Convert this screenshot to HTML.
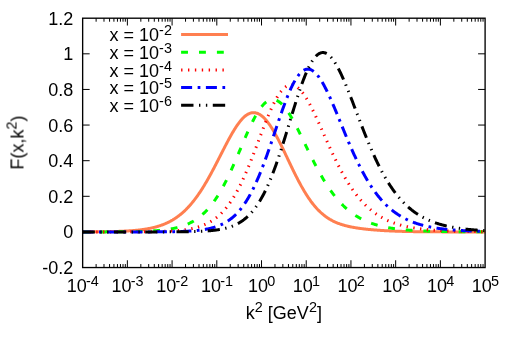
<!DOCTYPE html>
<html><head><meta charset="utf-8"><title>plot</title>
<style>html,body{margin:0;padding:0;background:#fff}svg{display:block}text{will-change:transform;font-family:"Liberation Sans",sans-serif;fill:#000}</style></head>
<body>
<svg width="515" height="343" viewBox="0 0 515 343">
<rect width="515" height="343" fill="#fff"/>
<path d="M96.11 267.55v-3.5M96.11 18.2v3.5M103.99 267.55v-3.5M103.99 18.2v3.5M109.57 267.55v-3.5M109.57 18.2v3.5M113.91 267.55v-3.5M113.91 18.2v3.5M117.45 267.55v-3.5M117.45 18.2v3.5M120.44 267.55v-3.5M120.44 18.2v3.5M123.03 267.55v-3.5M123.03 18.2v3.5M125.32 267.55v-3.5M125.32 18.2v3.5M127.37 267.55v-7.3M127.37 18.2v7.3M140.83 267.55v-3.5M140.83 18.2v3.5M148.70 267.55v-3.5M148.70 18.2v3.5M154.29 267.55v-3.5M154.29 18.2v3.5M158.62 267.55v-3.5M158.62 18.2v3.5M162.16 267.55v-3.5M162.16 18.2v3.5M165.16 267.55v-3.5M165.16 18.2v3.5M167.75 267.55v-3.5M167.75 18.2v3.5M170.04 267.55v-3.5M170.04 18.2v3.5M172.08 267.55v-7.3M172.08 18.2v7.3M185.54 267.55v-3.5M185.54 18.2v3.5M193.42 267.55v-3.5M193.42 18.2v3.5M199.01 267.55v-3.5M199.01 18.2v3.5M203.34 267.55v-3.5M203.34 18.2v3.5M206.88 267.55v-3.5M206.88 18.2v3.5M209.87 267.55v-3.5M209.87 18.2v3.5M212.47 267.55v-3.5M212.47 18.2v3.5M214.75 267.55v-3.5M214.75 18.2v3.5M216.80 267.55v-7.3M216.80 18.2v7.3M230.26 267.55v-3.5M230.26 18.2v3.5M238.14 267.55v-3.5M238.14 18.2v3.5M243.72 267.55v-3.5M243.72 18.2v3.5M248.06 267.55v-3.5M248.06 18.2v3.5M251.60 267.55v-3.5M251.60 18.2v3.5M254.59 267.55v-3.5M254.59 18.2v3.5M257.18 267.55v-3.5M257.18 18.2v3.5M259.47 267.55v-3.5M259.47 18.2v3.5M261.52 267.55v-7.3M261.52 18.2v7.3M274.98 267.55v-3.5M274.98 18.2v3.5M282.85 267.55v-3.5M282.85 18.2v3.5M288.44 267.55v-3.5M288.44 18.2v3.5M292.77 267.55v-3.5M292.77 18.2v3.5M296.31 267.55v-3.5M296.31 18.2v3.5M299.31 267.55v-3.5M299.31 18.2v3.5M301.90 267.55v-3.5M301.90 18.2v3.5M304.19 267.55v-3.5M304.19 18.2v3.5M306.23 267.55v-7.3M306.23 18.2v7.3M319.69 267.55v-3.5M319.69 18.2v3.5M327.57 267.55v-3.5M327.57 18.2v3.5M333.16 267.55v-3.5M333.16 18.2v3.5M337.49 267.55v-3.5M337.49 18.2v3.5M341.03 267.55v-3.5M341.03 18.2v3.5M344.02 267.55v-3.5M344.02 18.2v3.5M346.62 267.55v-3.5M346.62 18.2v3.5M348.90 267.55v-3.5M348.90 18.2v3.5M350.95 267.55v-7.3M350.95 18.2v7.3M364.41 267.55v-3.5M364.41 18.2v3.5M372.29 267.55v-3.5M372.29 18.2v3.5M377.87 267.55v-3.5M377.87 18.2v3.5M382.21 267.55v-3.5M382.21 18.2v3.5M385.75 267.55v-3.5M385.75 18.2v3.5M388.74 267.55v-3.5M388.74 18.2v3.5M391.33 267.55v-3.5M391.33 18.2v3.5M393.62 267.55v-3.5M393.62 18.2v3.5M395.67 267.55v-7.3M395.67 18.2v7.3M409.13 267.55v-3.5M409.13 18.2v3.5M417.00 267.55v-3.5M417.00 18.2v3.5M422.59 267.55v-3.5M422.59 18.2v3.5M426.92 267.55v-3.5M426.92 18.2v3.5M430.46 267.55v-3.5M430.46 18.2v3.5M433.46 267.55v-3.5M433.46 18.2v3.5M436.05 267.55v-3.5M436.05 18.2v3.5M438.34 267.55v-3.5M438.34 18.2v3.5M440.38 267.55v-7.3M440.38 18.2v7.3M453.84 267.55v-3.5M453.84 18.2v3.5M461.72 267.55v-3.5M461.72 18.2v3.5M467.31 267.55v-3.5M467.31 18.2v3.5M471.64 267.55v-3.5M471.64 18.2v3.5M475.18 267.55v-3.5M475.18 18.2v3.5M478.17 267.55v-3.5M478.17 18.2v3.5M480.77 267.55v-3.5M480.77 18.2v3.5M483.05 267.55v-3.5M483.05 18.2v3.5M82.65 231.93h7M485.1 231.93h-7M82.65 196.31h7M485.1 196.31h-7M82.65 160.69h7M485.1 160.69h-7M82.65 125.06h7M485.1 125.06h-7M82.65 89.44h7M485.1 89.44h-7M82.65 53.82h7M485.1 53.82h-7" stroke="#000" stroke-width="1.0" fill="none"/>
<g font-size="18.0">
<text x="73.2" y="274.05" text-anchor="end">-0.2</text>
<text x="73.2" y="238.43" text-anchor="end">0</text>
<text x="73.2" y="202.81" text-anchor="end">0.2</text>
<text x="73.2" y="167.19" text-anchor="end">0.4</text>
<text x="73.2" y="131.56" text-anchor="end">0.6</text>
<text x="73.2" y="95.94" text-anchor="end">0.8</text>
<text x="73.2" y="60.32" text-anchor="end">1</text>
<text x="73.2" y="24.70" text-anchor="end">1.2</text>
<text x="82.85" y="291.9" text-anchor="middle">10<tspan font-size="14.4" dx="-0.8" dy="-5.7">-4</tspan></text>
<text x="127.57" y="291.9" text-anchor="middle">10<tspan font-size="14.4" dx="-0.8" dy="-5.7">-3</tspan></text>
<text x="172.28" y="291.9" text-anchor="middle">10<tspan font-size="14.4" dx="-0.8" dy="-5.7">-2</tspan></text>
<text x="217.00" y="291.9" text-anchor="middle">10<tspan font-size="14.4" dx="-0.8" dy="-5.7">-1</tspan></text>
<text x="261.72" y="291.9" text-anchor="middle">10<tspan font-size="14.4" dx="-0.8" dy="-5.7">0</tspan></text>
<text x="306.43" y="291.9" text-anchor="middle">10<tspan font-size="14.4" dx="-0.8" dy="-5.7">1</tspan></text>
<text x="351.15" y="291.9" text-anchor="middle">10<tspan font-size="14.4" dx="-0.8" dy="-5.7">2</tspan></text>
<text x="395.87" y="291.9" text-anchor="middle">10<tspan font-size="14.4" dx="-0.8" dy="-5.7">3</tspan></text>
<text x="440.58" y="291.9" text-anchor="middle">10<tspan font-size="14.4" dx="-0.8" dy="-5.7">4</tspan></text>
<text x="485.30" y="291.9" text-anchor="middle">10<tspan font-size="14.4" dx="-0.8" dy="-5.7">5</tspan></text>
<text x="283.88" y="318.9" text-anchor="middle">k<tspan font-size="14.4" dy="-6.5">2</tspan><tspan dy="6.5"> [GeV</tspan><tspan font-size="14.4" dy="-6.5">2</tspan><tspan dy="6.5">]</tspan></text>
<text transform="translate(23.5 142.57) rotate(-90)" text-anchor="middle">F(x,k<tspan font-size="14.4" dy="-6.9">2</tspan><tspan dy="6.9">)</tspan></text>
<text x="171.9" y="41.10" text-anchor="end">x = 10<tspan font-size="14.4" dy="-6.0">-2</tspan></text>
<text x="171.9" y="58.80" text-anchor="end">x = 10<tspan font-size="14.4" dy="-6.0">-3</tspan></text>
<text x="171.9" y="76.50" text-anchor="end">x = 10<tspan font-size="14.4" dy="-6.0">-4</tspan></text>
<text x="171.9" y="94.20" text-anchor="end">x = 10<tspan font-size="14.4" dy="-6.0">-5</tspan></text>
<text x="171.9" y="111.90" text-anchor="end">x = 10<tspan font-size="14.4" dy="-6.0">-6</tspan></text>
</g>
<g fill="none" stroke-width="3" stroke-linejoin="round">
<path d="M181.1 34.5H228" stroke="#ff7f50"/>
<path d="M181.1 52.2H228" stroke="#00ff00" stroke-dasharray="6.88 11.02"/>
<path d="M181.1 69.9H228" stroke="#ff0000" stroke-dasharray="1.38 5.51"/>
<path d="M181.1 87.6H228" stroke="#0000ff" stroke-dasharray="11.02 5.51 2.75 5.51"/>
<path d="M181.1 105.3H228" stroke="#000000" stroke-dasharray="12.39 5.51 1.38 5.51 1.38 5.51"/>
<polyline points="82.65,231.87 83.21,231.87 83.77,231.87 84.33,231.87 84.89,231.87 85.44,231.86 86.00,231.86 86.56,231.86 87.12,231.86 87.68,231.85 88.24,231.85 88.80,231.85 89.36,231.84 89.92,231.84 90.48,231.84 91.03,231.83 91.59,231.83 92.15,231.83 92.71,231.82 93.27,231.82 93.83,231.81 94.39,231.81 94.95,231.81 95.51,231.80 96.06,231.80 96.62,231.79 97.18,231.79 97.74,231.78 98.30,231.78 98.86,231.77 99.42,231.76 99.98,231.76 100.54,231.75 101.10,231.75 101.65,231.74 102.21,231.73 102.77,231.73 103.33,231.72 103.89,231.71 104.45,231.70 105.01,231.69 105.57,231.69 106.13,231.68 106.69,231.67 107.24,231.66 107.80,231.65 108.36,231.64 108.92,231.63 109.48,231.62 110.04,231.60 110.60,231.59 111.16,231.58 111.72,231.57 112.27,231.56 112.83,231.54 113.39,231.53 113.95,231.51 114.51,231.50 115.07,231.48 115.63,231.47 116.19,231.45 116.75,231.43 117.31,231.42 117.86,231.40 118.42,231.38 118.98,231.36 119.54,231.34 120.10,231.32 120.66,231.30 121.22,231.27 121.78,231.25 122.34,231.23 122.90,231.20 123.45,231.18 124.01,231.15 124.57,231.12 125.13,231.10 125.69,231.07 126.25,231.04 126.81,231.01 127.37,230.97 127.93,230.94 128.48,230.91 129.04,230.87 129.60,230.83 130.16,230.80 130.72,230.76 131.28,230.72 131.84,230.68 132.40,230.63 132.96,230.59 133.52,230.54 134.07,230.50 134.63,230.45 135.19,230.40 135.75,230.35 136.31,230.29 136.87,230.24 137.43,230.18 137.99,230.12 138.55,230.06 139.10,230.00 139.66,229.94 140.22,229.87 140.78,229.80 141.34,229.73 141.90,229.66 142.46,229.58 143.02,229.51 143.58,229.43 144.14,229.34 144.69,229.26 145.25,229.17 145.81,229.08 146.37,228.99 146.93,228.89 147.49,228.80 148.05,228.70 148.61,228.59 149.17,228.48 149.73,228.37 150.28,228.26 150.84,228.14 151.40,228.02 151.96,227.90 152.52,227.77 153.08,227.64 153.64,227.51 154.20,227.37 154.76,227.23 155.31,227.08 155.87,226.93 156.43,226.78 156.99,226.62 157.55,226.45 158.11,226.28 158.67,226.11 159.23,225.93 159.79,225.75 160.35,225.56 160.90,225.37 161.46,225.17 162.02,224.97 162.58,224.76 163.14,224.55 163.70,224.33 164.26,224.10 164.82,223.87 165.38,223.64 165.93,223.39 166.49,223.14 167.05,222.89 167.61,222.62 168.17,222.35 168.73,222.08 169.29,221.80 169.85,221.51 170.41,221.21 170.97,220.90 171.52,220.59 172.08,220.27 172.64,219.95 173.20,219.61 173.76,219.27 174.32,218.92 174.88,218.56 175.44,218.19 176.00,217.81 176.56,217.43 177.11,217.04 177.67,216.63 178.23,216.22 178.79,215.80 179.35,215.37 179.91,214.93 180.47,214.48 181.03,214.03 181.59,213.56 182.14,213.08 182.70,212.59 183.26,212.10 183.82,211.59 184.38,211.07 184.94,210.54 185.50,210.00 186.06,209.45 186.62,208.89 187.18,208.32 187.73,207.74 188.29,207.14 188.85,206.54 189.41,205.92 189.97,205.30 190.53,204.66 191.09,204.01 191.65,203.35 192.21,202.67 192.76,201.99 193.32,201.29 193.88,200.59 194.44,199.87 195.00,199.14 195.56,198.40 196.12,197.64 196.68,196.88 197.24,196.10 197.80,195.32 198.35,194.52 198.91,193.71 199.47,192.88 200.03,192.05 200.59,191.21 201.15,190.35 201.71,189.48 202.27,188.61 202.83,187.72 203.39,186.82 203.94,185.91 204.50,184.99 205.06,184.06 205.62,183.11 206.18,182.16 206.74,181.20 207.30,180.23 207.86,179.25 208.42,178.27 208.97,177.27 209.53,176.26 210.09,175.25 210.65,174.23 211.21,173.20 211.77,172.16 212.33,171.12 212.89,170.07 213.45,169.01 214.01,167.95 214.56,166.88 215.12,165.81 215.68,164.73 216.24,163.65 216.80,162.56 217.36,161.48 217.92,160.38 218.48,159.29 219.04,158.19 219.59,157.10 220.15,156.00 220.71,154.90 221.27,153.80 221.83,152.70 222.39,151.61 222.95,150.51 223.51,149.42 224.07,148.33 224.63,147.25 225.18,146.17 225.74,145.09 226.30,144.02 226.86,142.96 227.42,141.90 227.98,140.85 228.54,139.81 229.10,138.78 229.66,137.76 230.22,136.75 230.77,135.75 231.33,134.77 231.89,133.79 232.45,132.83 233.01,131.88 233.57,130.95 234.13,130.03 234.69,129.13 235.25,128.25 235.80,127.38 236.36,126.53 236.92,125.70 237.48,124.89 238.04,124.10 238.60,123.33 239.16,122.59 239.72,121.86 240.28,121.16 240.84,120.48 241.39,119.83 241.95,119.20 242.51,118.60 243.07,118.02 243.63,117.47 244.19,116.95 244.75,116.45 245.31,115.99 245.87,115.55 246.42,115.14 246.98,114.76 247.54,114.41 248.10,114.09 248.66,113.81 249.22,113.55 249.78,113.33 250.34,113.13 250.90,112.97 251.46,112.85 252.01,112.75 252.57,112.69 253.13,112.66 253.69,112.66 254.25,112.68 254.81,112.74 255.37,112.83 255.93,112.95 256.49,113.09 257.05,113.27 257.60,113.48 258.16,113.71 258.72,113.98 259.28,114.28 259.84,114.60 260.40,114.96 260.96,115.34 261.52,115.76 262.08,116.20 262.63,116.67 263.19,117.17 263.75,117.69 264.31,118.24 264.87,118.82 265.43,119.43 265.99,120.07 266.55,120.72 267.11,121.41 267.67,122.12 268.22,122.85 268.78,123.61 269.34,124.39 269.90,125.20 270.46,126.02 271.02,126.87 271.58,127.74 272.14,128.63 272.70,129.54 273.25,130.47 273.81,131.42 274.37,132.38 274.93,133.37 275.49,134.37 276.05,135.38 276.61,136.41 277.17,137.46 277.73,138.51 278.29,139.59 278.84,140.67 279.40,141.76 279.96,142.87 280.52,143.99 281.08,145.11 281.64,146.24 282.20,147.38 282.76,148.53 283.32,149.69 283.88,150.85 284.43,152.01 284.99,153.18 285.55,154.35 286.11,155.53 286.67,156.70 287.23,157.88 287.79,159.06 288.35,160.24 288.91,161.41 289.46,162.59 290.02,163.76 290.58,164.93 291.14,166.10 291.70,167.26 292.26,168.42 292.82,169.57 293.38,170.72 293.94,171.85 294.50,172.99 295.05,174.11 295.61,175.23 296.17,176.34 296.73,177.44 297.29,178.53 297.85,179.61 298.41,180.68 298.97,181.74 299.53,182.79 300.08,183.82 300.64,184.85 301.20,185.86 301.76,186.86 302.32,187.85 302.88,188.83 303.44,189.79 304.00,190.74 304.56,191.67 305.12,192.59 305.67,193.50 306.23,194.39 306.79,195.27 307.35,196.13 307.91,196.98 308.47,197.82 309.03,198.64 309.59,199.44 310.15,200.23 310.71,201.01 311.26,201.77 311.82,202.52 312.38,203.25 312.94,203.97 313.50,204.67 314.06,205.35 314.62,206.03 315.18,206.69 315.74,207.33 316.29,207.96 316.85,208.57 317.41,209.18 317.97,209.76 318.53,210.34 319.09,210.90 319.65,211.44 320.21,211.98 320.77,212.50 321.33,213.00 321.88,213.50 322.44,213.98 323.00,214.45 323.56,214.91 324.12,215.36 324.68,215.79 325.24,216.21 325.80,216.62 326.36,217.02 326.91,217.41 327.47,217.79 328.03,218.16 328.59,218.52 329.15,218.87 329.71,219.21 330.27,219.53 330.83,219.85 331.39,220.16 331.95,220.47 332.50,220.76 333.06,221.05 333.62,221.32 334.18,221.59 334.74,221.85 335.30,222.11 335.86,222.35 336.42,222.59 336.98,222.82 337.54,223.05 338.09,223.27 338.65,223.48 339.21,223.69 339.77,223.89 340.33,224.08 340.89,224.27 341.45,224.46 342.01,224.64 342.57,224.81 343.12,224.98 343.68,225.14 344.24,225.30 344.80,225.46 345.36,225.61 345.92,225.75 346.48,225.90 347.04,226.03 347.60,226.17 348.16,226.30 348.71,226.43 349.27,226.55 349.83,226.67 350.39,226.79 350.95,226.91 351.51,227.02 352.07,227.13 352.63,227.23 353.19,227.34 353.74,227.44 354.30,227.54 354.86,227.63 355.42,227.73 355.98,227.82 356.54,227.91 357.10,228.00 357.66,228.08 358.22,228.17 358.78,228.25 359.33,228.33 359.89,228.40 360.45,228.48 361.01,228.56 361.57,228.63 362.13,228.70 362.69,228.77 363.25,228.84 363.81,228.90 364.37,228.97 364.92,229.03 365.48,229.10 366.04,229.16 366.60,229.22 367.16,229.28 367.72,229.34 368.28,229.39 368.84,229.45 369.40,229.50 369.95,229.56 370.51,229.61 371.07,229.66 371.63,229.71 372.19,229.76 372.75,229.81 373.31,229.86 373.87,229.90 374.43,229.95 374.99,229.99 375.54,230.04 376.10,230.08 376.66,230.12 377.22,230.16 377.78,230.20 378.34,230.24 378.90,230.28 379.46,230.32 380.02,230.36 380.57,230.40 381.13,230.43 381.69,230.47 382.25,230.50 382.81,230.54 383.37,230.57 383.93,230.60 384.49,230.64 385.05,230.67 385.61,230.70 386.16,230.73 386.72,230.76 387.28,230.79 387.84,230.82 388.40,230.84 388.96,230.87 389.52,230.90 390.08,230.92 390.64,230.95 391.20,230.98 391.75,231.00 392.31,231.02 392.87,231.05 393.43,231.07 393.99,231.09 394.55,231.12 395.11,231.14 395.67,231.16 396.23,231.18 396.78,231.20 397.34,231.22 397.90,231.24 398.46,231.26 399.02,231.28 399.58,231.29 400.14,231.31 400.70,231.33 401.26,231.35 401.82,231.36 402.37,231.38 402.93,231.39 403.49,231.41 404.05,231.42 404.61,231.44 405.17,231.45 405.73,231.47 406.29,231.48 406.85,231.49 407.40,231.51 407.96,231.52 408.52,231.53 409.08,231.54 409.64,231.55 410.20,231.56 410.76,231.58 411.32,231.59 411.88,231.60 412.44,231.61 412.99,231.62 413.55,231.63 414.11,231.64 414.67,231.64 415.23,231.65 415.79,231.66 416.35,231.67 416.91,231.68 417.47,231.69 418.02,231.69 418.58,231.70 419.14,231.71 419.70,231.72 420.26,231.72 420.82,231.73 421.38,231.74 421.94,231.74 422.50,231.75 423.06,231.75 423.61,231.76 424.17,231.77 424.73,231.77 425.29,231.78 425.85,231.78 426.41,231.79 426.97,231.79 427.53,231.80 428.09,231.80 428.65,231.81 429.20,231.81 429.76,231.81 430.32,231.82 430.88,231.82 431.44,231.82 432.00,231.83 432.56,231.83 433.12,231.84 433.68,231.84 434.23,231.84 434.79,231.85 435.35,231.85 435.91,231.85 436.47,231.85 437.03,231.86 437.59,231.86 438.15,231.86 438.71,231.86 439.27,231.87 439.82,231.87 440.38,231.87 440.94,231.87 441.50,231.87 442.06,231.88 442.62,231.88 443.18,231.88 443.74,231.88 444.30,231.88 444.86,231.89 445.41,231.89 445.97,231.89 446.53,231.89 447.09,231.89 447.65,231.89 448.21,231.89 448.77,231.90 449.33,231.90 449.89,231.90 450.44,231.90 451.00,231.90 451.56,231.90 452.12,231.90 452.68,231.90 453.24,231.90 453.80,231.91 454.36,231.91 454.92,231.91 455.48,231.91 456.03,231.91 456.59,231.91 457.15,231.91 457.71,231.91 458.27,231.91 458.83,231.91 459.39,231.91 459.95,231.91 460.51,231.91 461.06,231.92 461.62,231.92 462.18,231.92 462.74,231.92 463.30,231.92 463.86,231.92 464.42,231.92 464.98,231.92 465.54,231.92 466.10,231.92 466.65,231.92 467.21,231.92 467.77,231.92 468.33,231.92 468.89,231.92 469.45,231.92 470.01,231.92 470.57,231.92 471.13,231.92 471.69,231.92 472.24,231.92 472.80,231.92 473.36,231.92 473.92,231.92 474.48,231.92 475.04,231.92 475.60,231.92 476.16,231.92 476.72,231.92 477.27,231.92 477.83,231.92 478.39,231.93 478.95,231.93 479.51,231.93 480.07,231.93 480.63,231.93 481.19,231.93 481.75,231.93 482.31,231.93 482.86,231.93 483.42,231.93 483.98,231.93 484.54,231.93 485.10,231.93" stroke="#ff7f50"/>
<polyline points="82.65,231.92 83.21,231.92 83.77,231.92 84.33,231.92 84.89,231.91 85.44,231.91 86.00,231.91 86.56,231.91 87.12,231.91 87.68,231.91 88.24,231.91 88.80,231.91 89.36,231.91 89.92,231.91 90.48,231.91 91.03,231.91 91.59,231.91 92.15,231.91 92.71,231.91 93.27,231.90 93.83,231.90 94.39,231.90 94.95,231.90 95.51,231.90 96.06,231.90 96.62,231.90 97.18,231.90 97.74,231.90 98.30,231.90 98.86,231.89 99.42,231.89 99.98,231.89 100.54,231.89 101.10,231.89 101.65,231.89 102.21,231.89 102.77,231.89 103.33,231.88 103.89,231.88 104.45,231.88 105.01,231.88 105.57,231.88 106.13,231.87 106.69,231.87 107.24,231.87 107.80,231.87 108.36,231.87 108.92,231.86 109.48,231.86 110.04,231.86 110.60,231.86 111.16,231.85 111.72,231.85 112.27,231.85 112.83,231.85 113.39,231.84 113.95,231.84 114.51,231.84 115.07,231.83 115.63,231.83 116.19,231.83 116.75,231.82 117.31,231.82 117.86,231.82 118.42,231.81 118.98,231.81 119.54,231.80 120.10,231.80 120.66,231.79 121.22,231.79 121.78,231.78 122.34,231.78 122.90,231.77 123.45,231.77 124.01,231.76 124.57,231.76 125.13,231.75 125.69,231.74 126.25,231.74 126.81,231.73 127.37,231.72 127.93,231.72 128.48,231.71 129.04,231.70 129.60,231.69 130.16,231.68 130.72,231.67 131.28,231.67 131.84,231.66 132.40,231.65 132.96,231.64 133.52,231.63 134.07,231.61 134.63,231.60 135.19,231.59 135.75,231.58 136.31,231.57 136.87,231.55 137.43,231.54 137.99,231.53 138.55,231.51 139.10,231.50 139.66,231.48 140.22,231.47 140.78,231.45 141.34,231.43 141.90,231.42 142.46,231.40 143.02,231.38 143.58,231.36 144.14,231.34 144.69,231.32 145.25,231.30 145.81,231.28 146.37,231.25 146.93,231.23 147.49,231.21 148.05,231.18 148.61,231.15 149.17,231.13 149.73,231.10 150.28,231.07 150.84,231.04 151.40,231.01 151.96,230.98 152.52,230.94 153.08,230.91 153.64,230.87 154.20,230.84 154.76,230.80 155.31,230.76 155.87,230.72 156.43,230.68 156.99,230.63 157.55,230.59 158.11,230.54 158.67,230.49 159.23,230.44 159.79,230.39 160.35,230.34 160.90,230.28 161.46,230.23 162.02,230.17 162.58,230.11 163.14,230.05 163.70,229.98 164.26,229.91 164.82,229.85 165.38,229.78 165.93,229.70 166.49,229.63 167.05,229.55 167.61,229.47 168.17,229.38 168.73,229.30 169.29,229.21 169.85,229.12 170.41,229.02 170.97,228.92 171.52,228.82 172.08,228.72 172.64,228.61 173.20,228.50 173.76,228.39 174.32,228.27 174.88,228.14 175.44,228.02 176.00,227.89 176.56,227.76 177.11,227.62 177.67,227.48 178.23,227.33 178.79,227.18 179.35,227.02 179.91,226.86 180.47,226.70 181.03,226.52 181.59,226.35 182.14,226.17 182.70,225.98 183.26,225.79 183.82,225.59 184.38,225.39 184.94,225.18 185.50,224.96 186.06,224.74 186.62,224.51 187.18,224.27 187.73,224.03 188.29,223.78 188.85,223.52 189.41,223.26 189.97,222.99 190.53,222.71 191.09,222.42 191.65,222.12 192.21,221.82 192.76,221.51 193.32,221.19 193.88,220.86 194.44,220.52 195.00,220.17 195.56,219.81 196.12,219.44 196.68,219.07 197.24,218.68 197.80,218.28 198.35,217.87 198.91,217.45 199.47,217.03 200.03,216.58 200.59,216.13 201.15,215.67 201.71,215.20 202.27,214.71 202.83,214.21 203.39,213.70 203.94,213.18 204.50,212.64 205.06,212.09 205.62,211.53 206.18,210.96 206.74,210.37 207.30,209.77 207.86,209.15 208.42,208.52 208.97,207.88 209.53,207.22 210.09,206.55 210.65,205.86 211.21,205.16 211.77,204.45 212.33,203.72 212.89,202.97 213.45,202.21 214.01,201.43 214.56,200.64 215.12,199.84 215.68,199.02 216.24,198.18 216.80,197.33 217.36,196.46 217.92,195.57 218.48,194.67 219.04,193.76 219.59,192.83 220.15,191.88 220.71,190.92 221.27,189.94 221.83,188.95 222.39,187.94 222.95,186.92 223.51,185.88 224.07,184.83 224.63,183.76 225.18,182.68 225.74,181.59 226.30,180.48 226.86,179.36 227.42,178.22 227.98,177.07 228.54,175.91 229.10,174.73 229.66,173.54 230.22,172.34 230.77,171.13 231.33,169.91 231.89,168.68 232.45,167.44 233.01,166.18 233.57,164.92 234.13,163.65 234.69,162.38 235.25,161.09 235.80,159.80 236.36,158.50 236.92,157.20 237.48,155.89 238.04,154.58 238.60,153.26 239.16,151.95 239.72,150.63 240.28,149.31 240.84,147.98 241.39,146.66 241.95,145.34 242.51,144.02 243.07,142.71 243.63,141.40 244.19,140.09 244.75,138.79 245.31,137.49 245.87,136.20 246.42,134.93 246.98,133.65 247.54,132.39 248.10,131.14 248.66,129.91 249.22,128.68 249.78,127.47 250.34,126.27 250.90,125.09 251.46,123.93 252.01,122.78 252.57,121.65 253.13,120.54 253.69,119.45 254.25,118.39 254.81,117.34 255.37,116.32 255.93,115.32 256.49,114.34 257.05,113.39 257.60,112.47 258.16,111.57 258.72,110.70 259.28,109.86 259.84,109.05 260.40,108.27 260.96,107.51 261.52,106.79 262.08,106.10 262.63,105.45 263.19,104.82 263.75,104.23 264.31,103.67 264.87,103.15 265.43,102.66 265.99,102.20 266.55,101.78 267.11,101.40 267.67,101.05 268.22,100.74 268.78,100.46 269.34,100.22 269.90,100.02 270.46,99.85 271.02,99.72 271.58,99.63 272.14,99.57 272.70,99.55 273.25,99.56 273.81,99.61 274.37,99.70 274.93,99.82 275.49,99.98 276.05,100.17 276.61,100.40 277.17,100.66 277.73,100.96 278.29,101.29 278.84,101.66 279.40,102.05 279.96,102.48 280.52,102.94 281.08,103.43 281.64,103.96 282.20,104.51 282.76,105.09 283.32,105.71 283.88,106.34 284.43,107.01 284.99,107.71 285.55,108.43 286.11,109.17 286.67,109.94 287.23,110.74 287.79,111.56 288.35,112.40 288.91,113.26 289.46,114.14 290.02,115.05 290.58,115.97 291.14,116.91 291.70,117.87 292.26,118.84 292.82,119.84 293.38,120.84 293.94,121.87 294.50,122.90 295.05,123.95 295.61,125.01 296.17,126.09 296.73,127.17 297.29,128.26 297.85,129.37 298.41,130.48 298.97,131.60 299.53,132.72 300.08,133.85 300.64,134.99 301.20,136.13 301.76,137.28 302.32,138.43 302.88,139.58 303.44,140.74 304.00,141.90 304.56,143.05 305.12,144.21 305.67,145.37 306.23,146.53 306.79,147.68 307.35,148.84 307.91,149.99 308.47,151.14 309.03,152.28 309.59,153.43 310.15,154.56 310.71,155.70 311.26,156.82 311.82,157.94 312.38,159.06 312.94,160.17 313.50,161.27 314.06,162.37 314.62,163.46 315.18,164.54 315.74,165.61 316.29,166.68 316.85,167.73 317.41,168.78 317.97,169.82 318.53,170.85 319.09,171.86 319.65,172.87 320.21,173.87 320.77,174.86 321.33,175.84 321.88,176.81 322.44,177.77 323.00,178.72 323.56,179.66 324.12,180.58 324.68,181.50 325.24,182.40 325.80,183.30 326.36,184.18 326.91,185.05 327.47,185.91 328.03,186.76 328.59,187.60 329.15,188.42 329.71,189.24 330.27,190.04 330.83,190.83 331.39,191.61 331.95,192.38 332.50,193.14 333.06,193.89 333.62,194.62 334.18,195.35 334.74,196.06 335.30,196.76 335.86,197.46 336.42,198.14 336.98,198.81 337.54,199.46 338.09,200.11 338.65,200.75 339.21,201.38 339.77,201.99 340.33,202.60 340.89,203.20 341.45,203.78 342.01,204.36 342.57,204.92 343.12,205.48 343.68,206.02 344.24,206.56 344.80,207.09 345.36,207.60 345.92,208.11 346.48,208.61 347.04,209.10 347.60,209.58 348.16,210.05 348.71,210.51 349.27,210.97 349.83,211.41 350.39,211.85 350.95,212.28 351.51,212.70 352.07,213.11 352.63,213.52 353.19,213.91 353.74,214.30 354.30,214.68 354.86,215.06 355.42,215.43 355.98,215.78 356.54,216.14 357.10,216.48 357.66,216.82 358.22,217.15 358.78,217.48 359.33,217.79 359.89,218.11 360.45,218.41 361.01,218.71 361.57,219.00 362.13,219.29 362.69,219.57 363.25,219.85 363.81,220.12 364.37,220.38 364.92,220.64 365.48,220.89 366.04,221.14 366.60,221.38 367.16,221.62 367.72,221.85 368.28,222.08 368.84,222.30 369.40,222.52 369.95,222.73 370.51,222.94 371.07,223.14 371.63,223.34 372.19,223.54 372.75,223.73 373.31,223.92 373.87,224.10 374.43,224.28 374.99,224.45 375.54,224.62 376.10,224.79 376.66,224.95 377.22,225.11 377.78,225.27 378.34,225.42 378.90,225.57 379.46,225.72 380.02,225.86 380.57,226.00 381.13,226.14 381.69,226.27 382.25,226.40 382.81,226.53 383.37,226.66 383.93,226.78 384.49,226.90 385.05,227.02 385.61,227.13 386.16,227.24 386.72,227.35 387.28,227.46 387.84,227.56 388.40,227.66 388.96,227.76 389.52,227.86 390.08,227.95 390.64,228.05 391.20,228.14 391.75,228.23 392.31,228.31 392.87,228.40 393.43,228.48 393.99,228.56 394.55,228.64 395.11,228.72 395.67,228.79 396.23,228.87 396.78,228.94 397.34,229.01 397.90,229.08 398.46,229.14 399.02,229.21 399.58,229.27 400.14,229.34 400.70,229.40 401.26,229.46 401.82,229.52 402.37,229.57 402.93,229.63 403.49,229.68 404.05,229.74 404.61,229.79 405.17,229.84 405.73,229.89 406.29,229.94 406.85,229.98 407.40,230.03 407.96,230.07 408.52,230.12 409.08,230.16 409.64,230.20 410.20,230.24 410.76,230.28 411.32,230.32 411.88,230.36 412.44,230.40 412.99,230.43 413.55,230.47 414.11,230.51 414.67,230.54 415.23,230.57 415.79,230.60 416.35,230.64 416.91,230.67 417.47,230.70 418.02,230.73 418.58,230.75 419.14,230.78 419.70,230.81 420.26,230.84 420.82,230.86 421.38,230.89 421.94,230.91 422.50,230.94 423.06,230.96 423.61,230.98 424.17,231.01 424.73,231.03 425.29,231.05 425.85,231.07 426.41,231.09 426.97,231.11 427.53,231.13 428.09,231.15 428.65,231.17 429.20,231.19 429.76,231.20 430.32,231.22 430.88,231.24 431.44,231.26 432.00,231.27 432.56,231.29 433.12,231.30 433.68,231.32 434.23,231.33 434.79,231.35 435.35,231.36 435.91,231.37 436.47,231.39 437.03,231.40 437.59,231.41 438.15,231.43 438.71,231.44 439.27,231.45 439.82,231.46 440.38,231.47 440.94,231.48 441.50,231.49 442.06,231.50 442.62,231.51 443.18,231.52 443.74,231.53 444.30,231.54 444.86,231.55 445.41,231.56 445.97,231.57 446.53,231.58 447.09,231.59 447.65,231.60 448.21,231.60 448.77,231.61 449.33,231.62 449.89,231.63 450.44,231.63 451.00,231.64 451.56,231.65 452.12,231.65 452.68,231.66 453.24,231.67 453.80,231.67 454.36,231.68 454.92,231.69 455.48,231.69 456.03,231.70 456.59,231.70 457.15,231.71 457.71,231.71 458.27,231.72 458.83,231.72 459.39,231.73 459.95,231.73 460.51,231.74 461.06,231.74 461.62,231.75 462.18,231.75 462.74,231.76 463.30,231.76 463.86,231.76 464.42,231.77 464.98,231.77 465.54,231.78 466.10,231.78 466.65,231.78 467.21,231.79 467.77,231.79 468.33,231.79 468.89,231.80 469.45,231.80 470.01,231.80 470.57,231.81 471.13,231.81 471.69,231.81 472.24,231.81 472.80,231.82 473.36,231.82 473.92,231.82 474.48,231.82 475.04,231.83 475.60,231.83 476.16,231.83 476.72,231.83 477.27,231.84 477.83,231.84 478.39,231.84 478.95,231.84 479.51,231.85 480.07,231.85 480.63,231.85 481.19,231.85 481.75,231.85 482.31,231.85 482.86,231.86 483.42,231.86 483.98,231.86 484.54,231.86 485.10,231.86" stroke="#00ff00" stroke-dasharray="6.79 10.87"/>
<polyline points="82.65,231.93 83.21,231.93 83.77,231.93 84.33,231.93 84.89,231.93 85.44,231.93 86.00,231.93 86.56,231.93 87.12,231.93 87.68,231.93 88.24,231.93 88.80,231.93 89.36,231.93 89.92,231.92 90.48,231.92 91.03,231.92 91.59,231.92 92.15,231.92 92.71,231.92 93.27,231.92 93.83,231.92 94.39,231.92 94.95,231.92 95.51,231.92 96.06,231.92 96.62,231.92 97.18,231.92 97.74,231.92 98.30,231.92 98.86,231.92 99.42,231.92 99.98,231.92 100.54,231.92 101.10,231.92 101.65,231.92 102.21,231.92 102.77,231.92 103.33,231.92 103.89,231.92 104.45,231.92 105.01,231.92 105.57,231.92 106.13,231.92 106.69,231.92 107.24,231.92 107.80,231.92 108.36,231.92 108.92,231.92 109.48,231.91 110.04,231.91 110.60,231.91 111.16,231.91 111.72,231.91 112.27,231.91 112.83,231.91 113.39,231.91 113.95,231.91 114.51,231.91 115.07,231.91 115.63,231.91 116.19,231.91 116.75,231.91 117.31,231.91 117.86,231.90 118.42,231.90 118.98,231.90 119.54,231.90 120.10,231.90 120.66,231.90 121.22,231.90 121.78,231.90 122.34,231.90 122.90,231.89 123.45,231.89 124.01,231.89 124.57,231.89 125.13,231.89 125.69,231.89 126.25,231.89 126.81,231.88 127.37,231.88 127.93,231.88 128.48,231.88 129.04,231.88 129.60,231.87 130.16,231.87 130.72,231.87 131.28,231.87 131.84,231.87 132.40,231.86 132.96,231.86 133.52,231.86 134.07,231.86 134.63,231.85 135.19,231.85 135.75,231.85 136.31,231.84 136.87,231.84 137.43,231.84 137.99,231.83 138.55,231.83 139.10,231.83 139.66,231.82 140.22,231.82 140.78,231.81 141.34,231.81 141.90,231.80 142.46,231.80 143.02,231.79 143.58,231.79 144.14,231.78 144.69,231.78 145.25,231.77 145.81,231.77 146.37,231.76 146.93,231.75 147.49,231.75 148.05,231.74 148.61,231.73 149.17,231.73 149.73,231.72 150.28,231.71 150.84,231.70 151.40,231.69 151.96,231.68 152.52,231.67 153.08,231.66 153.64,231.65 154.20,231.64 154.76,231.63 155.31,231.62 155.87,231.61 156.43,231.60 156.99,231.58 157.55,231.57 158.11,231.56 158.67,231.54 159.23,231.53 159.79,231.51 160.35,231.50 160.90,231.48 161.46,231.47 162.02,231.45 162.58,231.43 163.14,231.41 163.70,231.39 164.26,231.37 164.82,231.35 165.38,231.33 165.93,231.31 166.49,231.28 167.05,231.26 167.61,231.23 168.17,231.21 168.73,231.18 169.29,231.15 169.85,231.12 170.41,231.09 170.97,231.06 171.52,231.03 172.08,230.99 172.64,230.96 173.20,230.92 173.76,230.89 174.32,230.85 174.88,230.81 175.44,230.77 176.00,230.72 176.56,230.68 177.11,230.63 177.67,230.58 178.23,230.53 178.79,230.48 179.35,230.43 179.91,230.37 180.47,230.32 181.03,230.26 181.59,230.20 182.14,230.13 182.70,230.07 183.26,230.00 183.82,229.93 184.38,229.86 184.94,229.78 185.50,229.70 186.06,229.62 186.62,229.54 187.18,229.45 187.73,229.36 188.29,229.27 188.85,229.18 189.41,229.08 189.97,228.98 190.53,228.87 191.09,228.76 191.65,228.65 192.21,228.53 192.76,228.41 193.32,228.29 193.88,228.16 194.44,228.03 195.00,227.89 195.56,227.75 196.12,227.60 196.68,227.45 197.24,227.29 197.80,227.13 198.35,226.96 198.91,226.79 199.47,226.61 200.03,226.43 200.59,226.24 201.15,226.04 201.71,225.84 202.27,225.63 202.83,225.42 203.39,225.20 203.94,224.97 204.50,224.73 205.06,224.49 205.62,224.24 206.18,223.98 206.74,223.72 207.30,223.44 207.86,223.16 208.42,222.87 208.97,222.57 209.53,222.26 210.09,221.94 210.65,221.62 211.21,221.28 211.77,220.93 212.33,220.58 212.89,220.21 213.45,219.83 214.01,219.44 214.56,219.04 215.12,218.63 215.68,218.21 216.24,217.78 216.80,217.33 217.36,216.88 217.92,216.41 218.48,215.93 219.04,215.43 219.59,214.92 220.15,214.40 220.71,213.86 221.27,213.32 221.83,212.75 222.39,212.18 222.95,211.58 223.51,210.98 224.07,210.36 224.63,209.72 225.18,209.07 225.74,208.40 226.30,207.72 226.86,207.02 227.42,206.30 227.98,205.57 228.54,204.82 229.10,204.05 229.66,203.27 230.22,202.47 230.77,201.66 231.33,200.82 231.89,199.97 232.45,199.10 233.01,198.22 233.57,197.31 234.13,196.39 234.69,195.45 235.25,194.49 235.80,193.52 236.36,192.52 236.92,191.51 237.48,190.48 238.04,189.43 238.60,188.37 239.16,187.28 239.72,186.18 240.28,185.06 240.84,183.93 241.39,182.77 241.95,181.60 242.51,180.42 243.07,179.21 243.63,177.99 244.19,176.75 244.75,175.50 245.31,174.23 245.87,172.95 246.42,171.65 246.98,170.33 247.54,169.00 248.10,167.66 248.66,166.31 249.22,164.94 249.78,163.56 250.34,162.17 250.90,160.76 251.46,159.35 252.01,157.92 252.57,156.49 253.13,155.05 253.69,153.60 254.25,152.14 254.81,150.67 255.37,149.20 255.93,147.73 256.49,146.25 257.05,144.76 257.60,143.28 258.16,141.79 258.72,140.30 259.28,138.81 259.84,137.32 260.40,135.84 260.96,134.35 261.52,132.87 262.08,131.40 262.63,129.93 263.19,128.47 263.75,127.01 264.31,125.57 264.87,124.13 265.43,122.71 265.99,121.30 266.55,119.90 267.11,118.51 267.67,117.14 268.22,115.79 268.78,114.45 269.34,113.13 269.90,111.83 270.46,110.55 271.02,109.29 271.58,108.06 272.14,106.84 272.70,105.66 273.25,104.49 273.81,103.35 274.37,102.24 274.93,101.16 275.49,100.11 276.05,99.09 276.61,98.09 277.17,97.13 277.73,96.20 278.29,95.30 278.84,94.44 279.40,93.61 279.96,92.82 280.52,92.06 281.08,91.34 281.64,90.65 282.20,90.00 282.76,89.39 283.32,88.81 283.88,88.28 284.43,87.78 284.99,87.32 285.55,86.91 286.11,86.53 286.67,86.19 287.23,85.89 287.79,85.63 288.35,85.41 288.91,85.23 289.46,85.10 290.02,85.00 290.58,84.94 291.14,84.92 291.70,84.94 292.26,85.00 292.82,85.10 293.38,85.24 293.94,85.42 294.50,85.64 295.05,85.89 295.61,86.18 296.17,86.51 296.73,86.88 297.29,87.28 297.85,87.72 298.41,88.19 298.97,88.70 299.53,89.24 300.08,89.81 300.64,90.42 301.20,91.06 301.76,91.73 302.32,92.43 302.88,93.16 303.44,93.92 304.00,94.71 304.56,95.52 305.12,96.36 305.67,97.23 306.23,98.12 306.79,99.04 307.35,99.98 307.91,100.94 308.47,101.93 309.03,102.93 309.59,103.96 310.15,105.00 310.71,106.06 311.26,107.14 311.82,108.24 312.38,109.35 312.94,110.48 313.50,111.62 314.06,112.77 314.62,113.94 315.18,115.12 315.74,116.31 316.29,117.50 316.85,118.71 317.41,119.93 317.97,121.15 318.53,122.38 319.09,123.62 319.65,124.86 320.21,126.11 320.77,127.36 321.33,128.61 321.88,129.87 322.44,131.13 323.00,132.38 323.56,133.64 324.12,134.90 324.68,136.16 325.24,137.42 325.80,138.68 326.36,139.93 326.91,141.18 327.47,142.43 328.03,143.67 328.59,144.91 329.15,146.15 329.71,147.38 330.27,148.60 330.83,149.82 331.39,151.03 331.95,152.23 332.50,153.43 333.06,154.62 333.62,155.80 334.18,156.97 334.74,158.14 335.30,159.29 335.86,160.44 336.42,161.57 336.98,162.70 337.54,163.82 338.09,164.92 338.65,166.02 339.21,167.11 339.77,168.18 340.33,169.25 340.89,170.30 341.45,171.34 342.01,172.37 342.57,173.39 343.12,174.40 343.68,175.40 344.24,176.38 344.80,177.36 345.36,178.32 345.92,179.27 346.48,180.20 347.04,181.13 347.60,182.04 348.16,182.94 348.71,183.83 349.27,184.71 349.83,185.58 350.39,186.43 350.95,187.27 351.51,188.10 352.07,188.92 352.63,189.72 353.19,190.52 353.74,191.30 354.30,192.07 354.86,192.83 355.42,193.58 355.98,194.31 356.54,195.03 357.10,195.75 357.66,196.45 358.22,197.14 358.78,197.82 359.33,198.49 359.89,199.14 360.45,199.79 361.01,200.42 361.57,201.05 362.13,201.66 362.69,202.27 363.25,202.86 363.81,203.44 364.37,204.02 364.92,204.58 365.48,205.13 366.04,205.67 366.60,206.21 367.16,206.73 367.72,207.25 368.28,207.75 368.84,208.25 369.40,208.74 369.95,209.21 370.51,209.68 371.07,210.14 371.63,210.60 372.19,211.04 372.75,211.48 373.31,211.90 373.87,212.32 374.43,212.73 374.99,213.14 375.54,213.53 376.10,213.92 376.66,214.30 377.22,214.67 377.78,215.04 378.34,215.40 378.90,215.75 379.46,216.10 380.02,216.43 380.57,216.76 381.13,217.09 381.69,217.41 382.25,217.72 382.81,218.02 383.37,218.32 383.93,218.62 384.49,218.91 385.05,219.19 385.61,219.46 386.16,219.73 386.72,220.00 387.28,220.26 387.84,220.51 388.40,220.76 388.96,221.00 389.52,221.24 390.08,221.48 390.64,221.71 391.20,221.93 391.75,222.15 392.31,222.36 392.87,222.57 393.43,222.78 393.99,222.98 394.55,223.18 395.11,223.37 395.67,223.56 396.23,223.75 396.78,223.93 397.34,224.11 397.90,224.28 398.46,224.45 399.02,224.61 399.58,224.78 400.14,224.94 400.70,225.09 401.26,225.24 401.82,225.39 402.37,225.54 402.93,225.68 403.49,225.82 404.05,225.96 404.61,226.09 405.17,226.22 405.73,226.35 406.29,226.48 406.85,226.60 407.40,226.72 407.96,226.84 408.52,226.95 409.08,227.06 409.64,227.17 410.20,227.28 410.76,227.38 411.32,227.49 411.88,227.59 412.44,227.68 412.99,227.78 413.55,227.87 414.11,227.97 414.67,228.06 415.23,228.14 415.79,228.23 416.35,228.31 416.91,228.40 417.47,228.48 418.02,228.55 418.58,228.63 419.14,228.71 419.70,228.78 420.26,228.85 420.82,228.92 421.38,228.99 421.94,229.06 422.50,229.12 423.06,229.18 423.61,229.25 424.17,229.31 424.73,229.37 425.29,229.43 425.85,229.48 426.41,229.54 426.97,229.59 427.53,229.65 428.09,229.70 428.65,229.75 429.20,229.80 429.76,229.85 430.32,229.90 430.88,229.94 431.44,229.99 432.00,230.03 432.56,230.08 433.12,230.12 433.68,230.16 434.23,230.20 434.79,230.24 435.35,230.28 435.91,230.32 436.47,230.35 437.03,230.39 437.59,230.43 438.15,230.46 438.71,230.49 439.27,230.53 439.82,230.56 440.38,230.59 440.94,230.62 441.50,230.65 442.06,230.68 442.62,230.71 443.18,230.74 443.74,230.76 444.30,230.79 444.86,230.82 445.41,230.84 445.97,230.87 446.53,230.89 447.09,230.92 447.65,230.94 448.21,230.96 448.77,230.99 449.33,231.01 449.89,231.03 450.44,231.05 451.00,231.07 451.56,231.09 452.12,231.11 452.68,231.13 453.24,231.15 453.80,231.16 454.36,231.18 454.92,231.20 455.48,231.22 456.03,231.23 456.59,231.25 457.15,231.26 457.71,231.28 458.27,231.29 458.83,231.31 459.39,231.32 459.95,231.34 460.51,231.35 461.06,231.36 461.62,231.38 462.18,231.39 462.74,231.40 463.30,231.41 463.86,231.43 464.42,231.44 464.98,231.45 465.54,231.46 466.10,231.47 466.65,231.48 467.21,231.49 467.77,231.50 468.33,231.51 468.89,231.52 469.45,231.53 470.01,231.54 470.57,231.55 471.13,231.56 471.69,231.57 472.24,231.58 472.80,231.58 473.36,231.59 473.92,231.60 474.48,231.61 475.04,231.61 475.60,231.62 476.16,231.63 476.72,231.64 477.27,231.64 477.83,231.65 478.39,231.66 478.95,231.66 479.51,231.67 480.07,231.67 480.63,231.68 481.19,231.69 481.75,231.69 482.31,231.70 482.86,231.70 483.42,231.71 483.98,231.71 484.54,231.72 485.10,231.72" stroke="#ff0000" stroke-dasharray="1.36 5.44"/>
<polyline points="82.65,231.93 83.21,231.93 83.77,231.93 84.33,231.93 84.89,231.93 85.44,231.93 86.00,231.93 86.56,231.93 87.12,231.93 87.68,231.93 88.24,231.93 88.80,231.93 89.36,231.93 89.92,231.93 90.48,231.93 91.03,231.93 91.59,231.93 92.15,231.93 92.71,231.93 93.27,231.93 93.83,231.93 94.39,231.93 94.95,231.93 95.51,231.93 96.06,231.93 96.62,231.93 97.18,231.93 97.74,231.93 98.30,231.93 98.86,231.93 99.42,231.93 99.98,231.93 100.54,231.93 101.10,231.93 101.65,231.93 102.21,231.93 102.77,231.93 103.33,231.93 103.89,231.93 104.45,231.93 105.01,231.93 105.57,231.93 106.13,231.93 106.69,231.93 107.24,231.93 107.80,231.93 108.36,231.93 108.92,231.93 109.48,231.93 110.04,231.93 110.60,231.93 111.16,231.93 111.72,231.93 112.27,231.93 112.83,231.93 113.39,231.93 113.95,231.93 114.51,231.92 115.07,231.92 115.63,231.92 116.19,231.92 116.75,231.92 117.31,231.92 117.86,231.92 118.42,231.92 118.98,231.92 119.54,231.92 120.10,231.92 120.66,231.92 121.22,231.92 121.78,231.92 122.34,231.92 122.90,231.92 123.45,231.92 124.01,231.92 124.57,231.92 125.13,231.92 125.69,231.92 126.25,231.92 126.81,231.92 127.37,231.92 127.93,231.92 128.48,231.92 129.04,231.92 129.60,231.92 130.16,231.92 130.72,231.92 131.28,231.92 131.84,231.92 132.40,231.91 132.96,231.91 133.52,231.91 134.07,231.91 134.63,231.91 135.19,231.91 135.75,231.91 136.31,231.91 136.87,231.91 137.43,231.91 137.99,231.91 138.55,231.91 139.10,231.91 139.66,231.90 140.22,231.90 140.78,231.90 141.34,231.90 141.90,231.90 142.46,231.90 143.02,231.90 143.58,231.90 144.14,231.90 144.69,231.89 145.25,231.89 145.81,231.89 146.37,231.89 146.93,231.89 147.49,231.89 148.05,231.88 148.61,231.88 149.17,231.88 149.73,231.88 150.28,231.88 150.84,231.87 151.40,231.87 151.96,231.87 152.52,231.87 153.08,231.87 153.64,231.86 154.20,231.86 154.76,231.86 155.31,231.85 155.87,231.85 156.43,231.85 156.99,231.84 157.55,231.84 158.11,231.84 158.67,231.83 159.23,231.83 159.79,231.83 160.35,231.82 160.90,231.82 161.46,231.81 162.02,231.81 162.58,231.80 163.14,231.80 163.70,231.79 164.26,231.79 164.82,231.78 165.38,231.77 165.93,231.77 166.49,231.76 167.05,231.75 167.61,231.75 168.17,231.74 168.73,231.73 169.29,231.72 169.85,231.71 170.41,231.71 170.97,231.70 171.52,231.69 172.08,231.68 172.64,231.67 173.20,231.66 173.76,231.64 174.32,231.63 174.88,231.62 175.44,231.61 176.00,231.59 176.56,231.58 177.11,231.57 177.67,231.55 178.23,231.54 178.79,231.52 179.35,231.50 179.91,231.49 180.47,231.47 181.03,231.45 181.59,231.43 182.14,231.41 182.70,231.39 183.26,231.37 183.82,231.35 184.38,231.32 184.94,231.30 185.50,231.27 186.06,231.25 186.62,231.22 187.18,231.19 187.73,231.16 188.29,231.13 188.85,231.10 189.41,231.07 189.97,231.03 190.53,230.99 191.09,230.96 191.65,230.92 192.21,230.88 192.76,230.84 193.32,230.79 193.88,230.75 194.44,230.70 195.00,230.65 195.56,230.60 196.12,230.55 196.68,230.50 197.24,230.44 197.80,230.38 198.35,230.32 198.91,230.26 199.47,230.19 200.03,230.13 200.59,230.06 201.15,229.98 201.71,229.91 202.27,229.83 202.83,229.75 203.39,229.67 203.94,229.58 204.50,229.49 205.06,229.40 205.62,229.30 206.18,229.20 206.74,229.09 207.30,228.99 207.86,228.87 208.42,228.76 208.97,228.64 209.53,228.51 210.09,228.39 210.65,228.25 211.21,228.11 211.77,227.97 212.33,227.82 212.89,227.67 213.45,227.51 214.01,227.35 214.56,227.18 215.12,227.00 215.68,226.82 216.24,226.64 216.80,226.44 217.36,226.24 217.92,226.03 218.48,225.82 219.04,225.60 219.59,225.37 220.15,225.13 220.71,224.89 221.27,224.64 221.83,224.38 222.39,224.11 222.95,223.83 223.51,223.55 224.07,223.25 224.63,222.95 225.18,222.63 225.74,222.31 226.30,221.98 226.86,221.63 227.42,221.28 227.98,220.91 228.54,220.53 229.10,220.14 229.66,219.74 230.22,219.33 230.77,218.91 231.33,218.47 231.89,218.02 232.45,217.56 233.01,217.08 233.57,216.59 234.13,216.09 234.69,215.57 235.25,215.04 235.80,214.49 236.36,213.93 236.92,213.35 237.48,212.76 238.04,212.15 238.60,211.53 239.16,210.89 239.72,210.23 240.28,209.55 240.84,208.86 241.39,208.15 241.95,207.43 242.51,206.68 243.07,205.92 243.63,205.14 244.19,204.34 244.75,203.52 245.31,202.68 245.87,201.82 246.42,200.95 246.98,200.05 247.54,199.14 248.10,198.20 248.66,197.25 249.22,196.27 249.78,195.28 250.34,194.26 250.90,193.22 251.46,192.17 252.01,191.09 252.57,189.99 253.13,188.88 253.69,187.74 254.25,186.58 254.81,185.40 255.37,184.20 255.93,182.98 256.49,181.74 257.05,180.48 257.60,179.20 258.16,177.90 258.72,176.58 259.28,175.24 259.84,173.89 260.40,172.51 260.96,171.12 261.52,169.71 262.08,168.28 262.63,166.83 263.19,165.37 263.75,163.89 264.31,162.39 264.87,160.88 265.43,159.36 265.99,157.82 266.55,156.27 267.11,154.70 267.67,153.12 268.22,151.53 268.78,149.93 269.34,148.32 269.90,146.70 270.46,145.08 271.02,143.44 271.58,141.80 272.14,140.15 272.70,138.50 273.25,136.84 273.81,135.18 274.37,133.52 274.93,131.85 275.49,130.19 276.05,128.52 276.61,126.86 277.17,125.20 277.73,123.55 278.29,121.90 278.84,120.26 279.40,118.62 279.96,116.99 280.52,115.38 281.08,113.77 281.64,112.18 282.20,110.59 282.76,109.03 283.32,107.47 283.88,105.94 284.43,104.42 284.99,102.92 285.55,101.44 286.11,99.98 286.67,98.55 287.23,97.13 287.79,95.75 288.35,94.38 288.91,93.05 289.46,91.74 290.02,90.46 290.58,89.21 291.14,87.99 291.70,86.80 292.26,85.65 292.82,84.52 293.38,83.43 293.94,82.38 294.50,81.36 295.05,80.38 295.61,79.44 296.17,78.54 296.73,77.67 297.29,76.84 297.85,76.06 298.41,75.31 298.97,74.60 299.53,73.94 300.08,73.32 300.64,72.74 301.20,72.20 301.76,71.71 302.32,71.25 302.88,70.85 303.44,70.48 304.00,70.16 304.56,69.89 305.12,69.65 305.67,69.46 306.23,69.32 306.79,69.22 307.35,69.16 307.91,69.14 308.47,69.17 309.03,69.24 309.59,69.36 310.15,69.51 310.71,69.71 311.26,69.95 311.82,70.23 312.38,70.55 312.94,70.92 313.50,71.32 314.06,71.76 314.62,72.24 315.18,72.75 315.74,73.31 316.29,73.90 316.85,74.52 317.41,75.18 317.97,75.88 318.53,76.61 319.09,77.37 319.65,78.16 320.21,78.99 320.77,79.85 321.33,80.73 321.88,81.64 322.44,82.59 323.00,83.55 323.56,84.55 324.12,85.57 324.68,86.61 325.24,87.68 325.80,88.77 326.36,89.88 326.91,91.01 327.47,92.17 328.03,93.34 328.59,94.52 329.15,95.73 329.71,96.95 330.27,98.19 330.83,99.44 331.39,100.70 331.95,101.98 332.50,103.27 333.06,104.57 333.62,105.88 334.18,107.20 334.74,108.52 335.30,109.86 335.86,111.20 336.42,112.55 336.98,113.90 337.54,115.26 338.09,116.62 338.65,117.98 339.21,119.35 339.77,120.72 340.33,122.09 340.89,123.46 341.45,124.83 342.01,126.20 342.57,127.56 343.12,128.93 343.68,130.29 344.24,131.65 344.80,133.00 345.36,134.35 345.92,135.70 346.48,137.04 347.04,138.37 347.60,139.70 348.16,141.02 348.71,142.34 349.27,143.65 349.83,144.95 350.39,146.24 350.95,147.52 351.51,148.79 352.07,150.06 352.63,151.31 353.19,152.56 353.74,153.80 354.30,155.02 354.86,156.24 355.42,157.44 355.98,158.63 356.54,159.81 357.10,160.98 357.66,162.14 358.22,163.29 358.78,164.42 359.33,165.55 359.89,166.66 360.45,167.76 361.01,168.84 361.57,169.92 362.13,170.98 362.69,172.03 363.25,173.06 363.81,174.09 364.37,175.10 364.92,176.10 365.48,177.08 366.04,178.06 366.60,179.02 367.16,179.96 367.72,180.90 368.28,181.82 368.84,182.73 369.40,183.62 369.95,184.51 370.51,185.38 371.07,186.24 371.63,187.08 372.19,187.92 372.75,188.74 373.31,189.54 373.87,190.34 374.43,191.12 374.99,191.90 375.54,192.66 376.10,193.40 376.66,194.14 377.22,194.87 377.78,195.58 378.34,196.28 378.90,196.97 379.46,197.65 380.02,198.32 380.57,198.97 381.13,199.62 381.69,200.25 382.25,200.87 382.81,201.49 383.37,202.09 383.93,202.68 384.49,203.26 385.05,203.84 385.61,204.40 386.16,204.95 386.72,205.49 387.28,206.02 387.84,206.55 388.40,207.06 388.96,207.56 389.52,208.06 390.08,208.54 390.64,209.02 391.20,209.49 391.75,209.95 392.31,210.40 392.87,210.84 393.43,211.28 393.99,211.70 394.55,212.12 395.11,212.53 395.67,212.93 396.23,213.33 396.78,213.71 397.34,214.09 397.90,214.47 398.46,214.83 399.02,215.19 399.58,215.54 400.14,215.88 400.70,216.22 401.26,216.55 401.82,216.88 402.37,217.19 402.93,217.51 403.49,217.81 404.05,218.11 404.61,218.40 405.17,218.69 405.73,218.97 406.29,219.25 406.85,219.52 407.40,219.79 407.96,220.05 408.52,220.30 409.08,220.55 409.64,220.79 410.20,221.03 410.76,221.27 411.32,221.50 411.88,221.72 412.44,221.94 412.99,222.16 413.55,222.37 414.11,222.58 414.67,222.78 415.23,222.98 415.79,223.17 416.35,223.36 416.91,223.55 417.47,223.73 418.02,223.91 418.58,224.08 419.14,224.25 419.70,224.42 420.26,224.59 420.82,224.75 421.38,224.90 421.94,225.06 422.50,225.21 423.06,225.36 423.61,225.50 424.17,225.64 424.73,225.78 425.29,225.91 425.85,226.05 426.41,226.18 426.97,226.30 427.53,226.43 428.09,226.55 428.65,226.67 429.20,226.78 429.76,226.90 430.32,227.01 430.88,227.12 431.44,227.22 432.00,227.33 432.56,227.43 433.12,227.53 433.68,227.63 434.23,227.72 434.79,227.82 435.35,227.91 435.91,228.00 436.47,228.08 437.03,228.17 437.59,228.25 438.15,228.33 438.71,228.41 439.27,228.49 439.82,228.57 440.38,228.64 440.94,228.72 441.50,228.79 442.06,228.86 442.62,228.93 443.18,228.99 443.74,229.06 444.30,229.12 444.86,229.19 445.41,229.25 445.97,229.31 446.53,229.37 447.09,229.42 447.65,229.48 448.21,229.54 448.77,229.59 449.33,229.64 449.89,229.69 450.44,229.74 451.00,229.79 451.56,229.84 452.12,229.89 452.68,229.93 453.24,229.98 453.80,230.02 454.36,230.06 454.92,230.11 455.48,230.15 456.03,230.19 456.59,230.23 457.15,230.26 457.71,230.30 458.27,230.34 458.83,230.37 459.39,230.41 459.95,230.44 460.51,230.48 461.06,230.51 461.62,230.54 462.18,230.57 462.74,230.60 463.30,230.63 463.86,230.66 464.42,230.69 464.98,230.72 465.54,230.75 466.10,230.77 466.65,230.80 467.21,230.82 467.77,230.85 468.33,230.87 468.89,230.90 469.45,230.92 470.01,230.94 470.57,230.97 471.13,230.99 471.69,231.01 472.24,231.03 472.80,231.05 473.36,231.07 473.92,231.09 474.48,231.11 475.04,231.13 475.60,231.15 476.16,231.16 476.72,231.18 477.27,231.20 477.83,231.21 478.39,231.23 478.95,231.25 479.51,231.26 480.07,231.28 480.63,231.29 481.19,231.31 481.75,231.32 482.31,231.33 482.86,231.35 483.42,231.36 483.98,231.37 484.54,231.39 485.10,231.40" stroke="#0000ff" stroke-dasharray="10.87 5.44 2.72 5.44"/>
<polyline points="82.65,231.93 83.21,231.93 83.77,231.93 84.33,231.93 84.89,231.93 85.44,231.93 86.00,231.93 86.56,231.93 87.12,231.93 87.68,231.93 88.24,231.93 88.80,231.93 89.36,231.93 89.92,231.93 90.48,231.93 91.03,231.93 91.59,231.93 92.15,231.93 92.71,231.93 93.27,231.93 93.83,231.93 94.39,231.93 94.95,231.93 95.51,231.93 96.06,231.93 96.62,231.93 97.18,231.93 97.74,231.93 98.30,231.93 98.86,231.93 99.42,231.93 99.98,231.93 100.54,231.93 101.10,231.93 101.65,231.93 102.21,231.93 102.77,231.93 103.33,231.93 103.89,231.93 104.45,231.93 105.01,231.93 105.57,231.93 106.13,231.93 106.69,231.93 107.24,231.93 107.80,231.93 108.36,231.93 108.92,231.93 109.48,231.93 110.04,231.93 110.60,231.93 111.16,231.93 111.72,231.93 112.27,231.93 112.83,231.93 113.39,231.93 113.95,231.93 114.51,231.93 115.07,231.93 115.63,231.93 116.19,231.93 116.75,231.93 117.31,231.93 117.86,231.93 118.42,231.93 118.98,231.93 119.54,231.93 120.10,231.93 120.66,231.93 121.22,231.93 121.78,231.93 122.34,231.93 122.90,231.93 123.45,231.93 124.01,231.93 124.57,231.93 125.13,231.93 125.69,231.93 126.25,231.93 126.81,231.93 127.37,231.93 127.93,231.93 128.48,231.93 129.04,231.93 129.60,231.93 130.16,231.93 130.72,231.93 131.28,231.93 131.84,231.93 132.40,231.93 132.96,231.93 133.52,231.93 134.07,231.93 134.63,231.92 135.19,231.92 135.75,231.92 136.31,231.92 136.87,231.92 137.43,231.92 137.99,231.92 138.55,231.92 139.10,231.92 139.66,231.92 140.22,231.92 140.78,231.92 141.34,231.92 141.90,231.92 142.46,231.92 143.02,231.92 143.58,231.92 144.14,231.92 144.69,231.92 145.25,231.92 145.81,231.92 146.37,231.92 146.93,231.92 147.49,231.92 148.05,231.92 148.61,231.92 149.17,231.92 149.73,231.92 150.28,231.92 150.84,231.92 151.40,231.91 151.96,231.91 152.52,231.91 153.08,231.91 153.64,231.91 154.20,231.91 154.76,231.91 155.31,231.91 155.87,231.91 156.43,231.91 156.99,231.91 157.55,231.91 158.11,231.91 158.67,231.90 159.23,231.90 159.79,231.90 160.35,231.90 160.90,231.90 161.46,231.90 162.02,231.90 162.58,231.90 163.14,231.89 163.70,231.89 164.26,231.89 164.82,231.89 165.38,231.89 165.93,231.89 166.49,231.88 167.05,231.88 167.61,231.88 168.17,231.88 168.73,231.88 169.29,231.87 169.85,231.87 170.41,231.87 170.97,231.86 171.52,231.86 172.08,231.86 172.64,231.86 173.20,231.85 173.76,231.85 174.32,231.85 174.88,231.84 175.44,231.84 176.00,231.83 176.56,231.83 177.11,231.83 177.67,231.82 178.23,231.82 178.79,231.81 179.35,231.81 179.91,231.80 180.47,231.80 181.03,231.79 181.59,231.78 182.14,231.78 182.70,231.77 183.26,231.76 183.82,231.76 184.38,231.75 184.94,231.74 185.50,231.73 186.06,231.73 186.62,231.72 187.18,231.71 187.73,231.70 188.29,231.69 188.85,231.68 189.41,231.67 189.97,231.66 190.53,231.64 191.09,231.63 191.65,231.62 192.21,231.60 192.76,231.59 193.32,231.58 193.88,231.56 194.44,231.55 195.00,231.53 195.56,231.51 196.12,231.49 196.68,231.48 197.24,231.46 197.80,231.44 198.35,231.41 198.91,231.39 199.47,231.37 200.03,231.35 200.59,231.32 201.15,231.30 201.71,231.27 202.27,231.24 202.83,231.21 203.39,231.18 203.94,231.15 204.50,231.12 205.06,231.08 205.62,231.05 206.18,231.01 206.74,230.97 207.30,230.93 207.86,230.89 208.42,230.85 208.97,230.80 209.53,230.75 210.09,230.71 210.65,230.65 211.21,230.60 211.77,230.55 212.33,230.49 212.89,230.43 213.45,230.37 214.01,230.30 214.56,230.24 215.12,230.17 215.68,230.10 216.24,230.02 216.80,229.94 217.36,229.86 217.92,229.78 218.48,229.69 219.04,229.60 219.59,229.51 220.15,229.41 220.71,229.31 221.27,229.21 221.83,229.10 222.39,228.98 222.95,228.87 223.51,228.74 224.07,228.62 224.63,228.49 225.18,228.35 225.74,228.21 226.30,228.06 226.86,227.91 227.42,227.76 227.98,227.59 228.54,227.43 229.10,227.25 229.66,227.07 230.22,226.88 230.77,226.69 231.33,226.49 231.89,226.28 232.45,226.06 233.01,225.84 233.57,225.61 234.13,225.37 234.69,225.13 235.25,224.87 235.80,224.61 236.36,224.33 236.92,224.05 237.48,223.76 238.04,223.46 238.60,223.15 239.16,222.83 239.72,222.49 240.28,222.15 240.84,221.80 241.39,221.43 241.95,221.05 242.51,220.67 243.07,220.26 243.63,219.85 244.19,219.42 244.75,218.98 245.31,218.53 245.87,218.06 246.42,217.58 246.98,217.08 247.54,216.57 248.10,216.05 248.66,215.50 249.22,214.95 249.78,214.37 250.34,213.78 250.90,213.18 251.46,212.55 252.01,211.91 252.57,211.25 253.13,210.58 253.69,209.88 254.25,209.17 254.81,208.44 255.37,207.68 255.93,206.91 256.49,206.12 257.05,205.31 257.60,204.48 258.16,203.63 258.72,202.76 259.28,201.86 259.84,200.95 260.40,200.01 260.96,199.05 261.52,198.07 262.08,197.07 262.63,196.05 263.19,195.00 263.75,193.93 264.31,192.84 264.87,191.72 265.43,190.59 265.99,189.43 266.55,188.24 267.11,187.04 267.67,185.81 268.22,184.55 268.78,183.28 269.34,181.98 269.90,180.66 270.46,179.32 271.02,177.95 271.58,176.56 272.14,175.15 272.70,173.72 273.25,172.26 273.81,170.79 274.37,169.29 274.93,167.77 275.49,166.23 276.05,164.67 276.61,163.09 277.17,161.50 277.73,159.88 278.29,158.25 278.84,156.59 279.40,154.92 279.96,153.24 280.52,151.54 281.08,149.82 281.64,148.09 282.20,146.35 282.76,144.59 283.32,142.82 283.88,141.04 284.43,139.25 284.99,137.44 285.55,135.64 286.11,133.82 286.67,131.99 287.23,130.16 287.79,128.33 288.35,126.49 288.91,124.65 289.46,122.81 290.02,120.97 290.58,119.13 291.14,117.29 291.70,115.45 292.26,113.62 292.82,111.80 293.38,109.98 293.94,108.16 294.50,106.36 295.05,104.57 295.61,102.79 296.17,101.02 296.73,99.27 297.29,97.53 297.85,95.81 298.41,94.11 298.97,92.43 299.53,90.77 300.08,89.12 300.64,87.51 301.20,85.91 301.76,84.34 302.32,82.80 302.88,81.29 303.44,79.80 304.00,78.35 304.56,76.92 305.12,75.53 305.67,74.17 306.23,72.85 306.79,71.56 307.35,70.30 307.91,69.09 308.47,67.91 309.03,66.77 309.59,65.67 310.15,64.61 310.71,63.59 311.26,62.61 311.82,61.68 312.38,60.79 312.94,59.94 313.50,59.14 314.06,58.38 314.62,57.67 315.18,57.00 315.74,56.38 316.29,55.80 316.85,55.27 317.41,54.79 317.97,54.36 318.53,53.97 319.09,53.63 319.65,53.34 320.21,53.09 320.77,52.89 321.33,52.74 321.88,52.63 322.44,52.58 323.00,52.57 323.56,52.60 324.12,52.68 324.68,52.81 325.24,52.98 325.80,53.20 326.36,53.46 326.91,53.76 327.47,54.11 328.03,54.50 328.59,54.94 329.15,55.41 329.71,55.93 330.27,56.49 330.83,57.08 331.39,57.72 331.95,58.39 332.50,59.10 333.06,59.85 333.62,60.63 334.18,61.45 334.74,62.30 335.30,63.19 335.86,64.10 336.42,65.05 336.98,66.03 337.54,67.04 338.09,68.08 338.65,69.14 339.21,70.24 339.77,71.35 340.33,72.50 340.89,73.66 341.45,74.85 342.01,76.06 342.57,77.30 343.12,78.55 343.68,79.82 344.24,81.11 344.80,82.42 345.36,83.74 345.92,85.08 346.48,86.44 347.04,87.81 347.60,89.19 348.16,90.58 348.71,91.98 349.27,93.39 349.83,94.82 350.39,96.25 350.95,97.69 351.51,99.13 352.07,100.58 352.63,102.04 353.19,103.50 353.74,104.96 354.30,106.43 354.86,107.90 355.42,109.37 355.98,110.84 356.54,112.32 357.10,113.79 357.66,115.26 358.22,116.73 358.78,118.19 359.33,119.66 359.89,121.12 360.45,122.57 361.01,124.02 361.57,125.47 362.13,126.91 362.69,128.34 363.25,129.77 363.81,131.19 364.37,132.61 364.92,134.01 365.48,135.41 366.04,136.80 366.60,138.18 367.16,139.55 367.72,140.91 368.28,142.26 368.84,143.61 369.40,144.94 369.95,146.26 370.51,147.57 371.07,148.86 371.63,150.15 372.19,151.42 372.75,152.69 373.31,153.94 373.87,155.18 374.43,156.40 374.99,157.62 375.54,158.82 376.10,160.01 376.66,161.18 377.22,162.35 377.78,163.50 378.34,164.63 378.90,165.76 379.46,166.87 380.02,167.97 380.57,169.05 381.13,170.12 381.69,171.18 382.25,172.22 382.81,173.25 383.37,174.27 383.93,175.27 384.49,176.27 385.05,177.24 385.61,178.21 386.16,179.16 386.72,180.10 387.28,181.02 387.84,181.93 388.40,182.83 388.96,183.72 389.52,184.59 390.08,185.45 390.64,186.29 391.20,187.13 391.75,187.95 392.31,188.76 392.87,189.56 393.43,190.34 393.99,191.11 394.55,191.87 395.11,192.62 395.67,193.36 396.23,194.08 396.78,194.80 397.34,195.50 397.90,196.19 398.46,196.87 399.02,197.54 399.58,198.19 400.14,198.84 400.70,199.47 401.26,200.10 401.82,200.71 402.37,201.32 402.93,201.91 403.49,202.49 404.05,203.06 404.61,203.63 405.17,204.18 405.73,204.72 406.29,205.26 406.85,205.78 407.40,206.30 407.96,206.80 408.52,207.30 409.08,207.79 409.64,208.26 410.20,208.74 410.76,209.20 411.32,209.65 411.88,210.10 412.44,210.53 412.99,210.96 413.55,211.38 414.11,211.80 414.67,212.20 415.23,212.60 415.79,212.99 416.35,213.37 416.91,213.75 417.47,214.12 418.02,214.48 418.58,214.83 419.14,215.18 419.70,215.52 420.26,215.86 420.82,216.19 421.38,216.51 421.94,216.83 422.50,217.14 423.06,217.44 423.61,217.74 424.17,218.03 424.73,218.32 425.29,218.60 425.85,218.87 426.41,219.14 426.97,219.41 427.53,219.67 428.09,219.92 428.65,220.17 429.20,220.42 429.76,220.66 430.32,220.89 430.88,221.12 431.44,221.35 432.00,221.57 432.56,221.78 433.12,222.00 433.68,222.20 434.23,222.41 434.79,222.61 435.35,222.80 435.91,223.00 436.47,223.18 437.03,223.37 437.59,223.55 438.15,223.72 438.71,223.90 439.27,224.07 439.82,224.23 440.38,224.39 440.94,224.55 441.50,224.71 442.06,224.86 442.62,225.01 443.18,225.16 443.74,225.30 444.30,225.44 444.86,225.58 445.41,225.72 445.97,225.85 446.53,225.98 447.09,226.10 447.65,226.23 448.21,226.35 448.77,226.47 449.33,226.59 449.89,226.70 450.44,226.81 451.00,226.92 451.56,227.03 452.12,227.13 452.68,227.23 453.24,227.33 453.80,227.43 454.36,227.53 454.92,227.62 455.48,227.72 456.03,227.81 456.59,227.89 457.15,227.98 457.71,228.07 458.27,228.15 458.83,228.23 459.39,228.31 459.95,228.39 460.51,228.46 461.06,228.54 461.62,228.61 462.18,228.68 462.74,228.75 463.30,228.82 463.86,228.89 464.42,228.95 464.98,229.02 465.54,229.08 466.10,229.14 466.65,229.20 467.21,229.26 467.77,229.32 468.33,229.38 468.89,229.43 469.45,229.48 470.01,229.54 470.57,229.59 471.13,229.64 471.69,229.69 472.24,229.74 472.80,229.79 473.36,229.83 473.92,229.88 474.48,229.92 475.04,229.96 475.60,230.01 476.16,230.05 476.72,230.09 477.27,230.13 477.83,230.17 478.39,230.21 478.95,230.24 479.51,230.28 480.07,230.32 480.63,230.35 481.19,230.39 481.75,230.42 482.31,230.45 482.86,230.48 483.42,230.52 483.98,230.55 484.54,230.58 485.10,230.61" stroke="#000000" stroke-dasharray="12.23 5.44 1.36 5.44 1.36 5.44"/>
</g>
<rect x="82.65" y="18.2" width="402.45" height="249.35" fill="none" stroke="#000" stroke-width="1.35"/>
</svg>
</body></html>
